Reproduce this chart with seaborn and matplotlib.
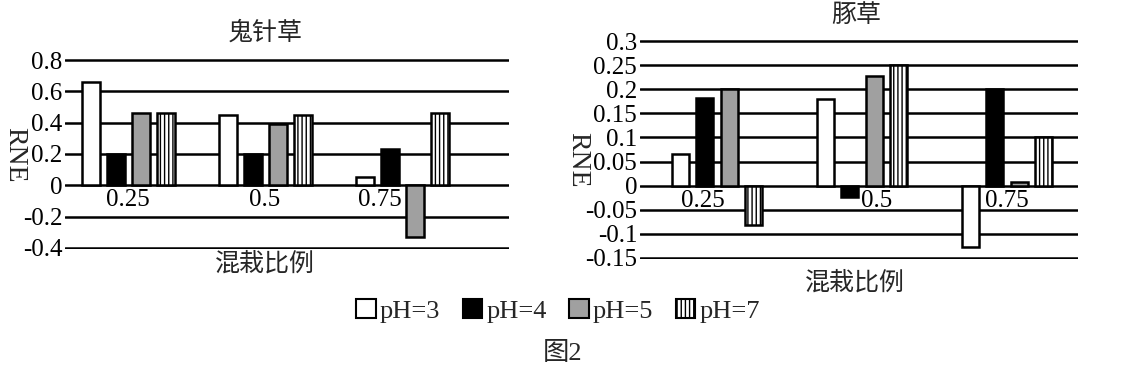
import numpy as np
import pandas as pd
import matplotlib
matplotlib.use("Agg")
import matplotlib.pyplot as plt
import seaborn as sns
from matplotlib.patches import Patch

# data
ratios = ["0.25", "0.5", "0.75"]
ph_levels = ["pH=3", "pH=4", "pH=5", "pH=7"]

left_title = "鬼针草"
left_vals = {
    "pH=3": [0.66, 0.45, 0.05],
    "pH=4": [0.20, 0.20, 0.235],
    "pH=5": [0.465, 0.395, -0.33],
    "pH=7": [0.465, 0.45, 0.465],
}
left_yticks = [-0.4, -0.2, 0, 0.2, 0.4, 0.6, 0.8]
left_yticklabels = ["-0.4", "-0.2", "0", "0.2", "0.4", "0.6", "0.8"]

right_title = "豚草"
right_vals = {
    "pH=3": [0.065, 0.18, -0.128],
    "pH=4": [0.183, -0.023, 0.20],
    "pH=5": [0.20, 0.228, 0.007],
    "pH=7": [-0.083, 0.25, 0.10],
}
right_yticks = [-0.15, -0.1, -0.05, 0, 0.05, 0.1, 0.15, 0.2, 0.25, 0.3]
right_yticklabels = ["-0.15", "-0.1", "-0.05", "0", "0.05", "0.1", "0.15", "0.2", "0.25", "0.3"]

bar_colors = ["white", "black", "#a0a0a0", "white"]
xlabel = "混栽比例"
ylabel = "RNE"
caption = "图2"

sns.set_theme(style="white")
plt.rcParams["font.family"] = ["Liberation Serif", "Noto Sans CJK SC"]
cjk = ["Noto Sans CJK SC", "DejaVu Sans"]
mixed = ["Liberation Serif", "Noto Sans CJK SC"]

W, H = 1127, 365
fig = plt.figure(figsize=(W / 100, H / 100), dpi=100)


def px_axes(x0, x1, ytop, ybot):
    return fig.add_axes([x0 / W, 1 - ybot / H, (x1 - x0) / W, (ybot - ytop) / H])


def draw_panel(ax, vals, yticks, yticklabels, xlim, width, gap, label_shift):
    df = pd.DataFrame(
        [(r, p, vals[p][i]) for p in ph_levels for i, r in enumerate(ratios)],
        columns=["ratio", "ph", "rne"],
    )
    sns.barplot(data=df, x="ratio", y="rne", hue="ph", order=ratios,
                hue_order=ph_levels, palette=bar_colors, width=width, gap=gap,
                edgecolor="black", linewidth=1.8, legend=False, ax=ax, zorder=3)
    for bar in ax.containers[3]:
        bar.set_hatch("||||")
    ax.set_xlim(*xlim)
    pad = (yticks[-1] - yticks[0]) * 0.006
    ax.set_ylim(yticks[0] - pad, yticks[-1] + pad)
    ax.set_yticks(yticks, yticklabels)
    # category labels sit on the zero line, nudged off the bars like the original
    ax.set_xticks(np.arange(len(ratios)) + np.array(label_shift), ratios)
    for y in yticks:
        ax.axhline(y, color="black", lw=1.8, zorder=2)
    for s in ax.spines.values():
        s.set_visible(False)
    ax.spines["bottom"].set_position(("data", 0))
    ax.xaxis.set_zorder(5)
    ax.tick_params(axis="both", length=0, labelsize=18, colors="black")
    ax.tick_params(axis="y", pad=2)
    ax.tick_params(axis="x", pad=3)
    ax.set_xlabel("")
    ax.set_ylabel("")


# left panel (y pixel of 0.8 -> 60, -0.4 -> 248)
axl = px_axes(65, 509, 60 - 0.9, 248 + 0.9)
draw_panel(axl, left_vals, left_yticks, left_yticklabels, (-0.46, 2.78), 0.73, 0.28,
           [0, 0, -0.16])
fig.text(265 / W, 1 - 33 / H, left_title, ha="center", va="center", fontsize=18, family=cjk)
fig.text(265 / W, 1 - 264 / H, xlabel, ha="center", va="center", fontsize=18, family=cjk)
fig.text(15 / W, 1 - 155 / H, ylabel, rotation=-90, ha="center", va="center", fontsize=20)

# right panel (0.3 -> 41, -0.15 -> 258)
axr = px_axes(640, 1078, 41 - 0.9, 258 + 0.9)
draw_panel(axr, right_vals, right_yticks, right_yticklabels, (-0.53, 2.49), 0.676, 0.31,
           [-0.095, 0.1, 0])
fig.text(856 / W, 1 - 15 / H, right_title, ha="center", va="center", fontsize=18, family=cjk)
fig.text(855 / W, 1 - 283 / H, xlabel, ha="center", va="center", fontsize=18, family=cjk)
fig.text(578 / W, 1 - 160 / H, ylabel, rotation=-90, ha="center", va="center", fontsize=20)

handles = [Patch(facecolor=c, edgecolor="black", linewidth=1.5,
                 hatch="||||" if p == "pH=7" else None)
           for c, p in zip(bar_colors, ph_levels)]
fig.legend(handles, ph_levels, loc="center", bbox_to_anchor=(558 / W, 1 - 311 / H),
           ncol=4, frameon=False, fontsize=19, handlelength=0.75, handleheight=0.75,
           handletextpad=0.15, columnspacing=0.85, borderpad=0)
fig.text(563 / W, 1 - 354 / H, caption, ha="center", va="center", fontsize=19, family=mixed)

fig.savefig("out.png", dpi=100)
